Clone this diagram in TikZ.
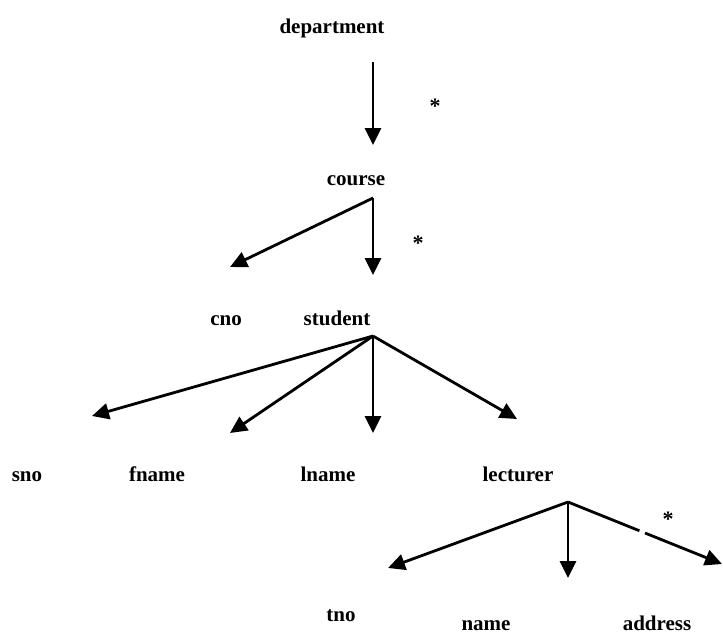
\documentclass[tikz,border=0pt]{standalone}
\usepackage{fontspec}
\setmainfont{Liberation Serif}
\usetikzlibrary{arrows.meta}
\begin{document}
\begin{tikzpicture}[x=1pt,y=-1pt,
  lbl/.style={font=\fontsize{21}{21}\selectfont\bfseries, inner sep=0pt, anchor=base},
  star/.style={font=\fontsize{22}{22}\selectfont\bfseries, inner sep=0pt, anchor=base},
  link/.style={line width=2.8pt, -{Triangle[length=17pt,width=16pt]}}]
\useasboundingbox (0,0) rectangle (723,640);

% element names
\node[lbl] (department) at (332,33)  {department};
\node[lbl] (course)     at (356,185) {course};
\node[lbl] (cno)        at (226,325) {cno};
\node[lbl] (student)    at (337,325) {student};
\node[lbl] (sno)        at (27,481)  {sno};
\node[lbl] (fname)      at (157,481) {fname};
\node[lbl] (lname)      at (328,481) {lname};
\node[lbl] (lecturer)   at (518,481) {lecturer};
\node[lbl] (tno)        at (341,621) {tno};
\node[lbl] (name)       at (486,630) {name};
\node[lbl] (address)    at (657,630) {address};

% attachment points of the edges
\coordinate (department-out) at (373,62);
\coordinate (course-in)      at (373,145);
\coordinate (course-out)     at (373,198);
\coordinate (cno-in)         at (230,267);
\coordinate (student-in)     at (373,275);
\coordinate (student-out)    at (373,336);
\coordinate (sno-in)         at (92,416);
\coordinate (fname-in)       at (230,433);
\coordinate (lname-in)       at (373,433);
\coordinate (lecturer-in)    at (517,419);
\coordinate (lecturer-out)   at (568,502);
\coordinate (tno-in)         at (388,568);
\coordinate (name-in)        at (568,578);
\coordinate (address-in)     at (722,564);

% edges
\draw[link] (department-out) -- (course-in);
\draw[link] (course-out) -- (cno-in);
\draw[link] (course-out) -- (student-in);
\draw[link] (student-out) -- (sno-in);
\draw[link] (student-out) -- (fname-in);
\draw[link] (student-out) -- (lname-in);
\draw[link] (student-out) -- (lecturer-in);
\draw[link] (lecturer-out) -- (tno-in);
\draw[link] (lecturer-out) -- (name-in);
\draw[link, dash pattern=on 77pt off 6pt on 200pt] (lecturer-out) -- (address-in);

% repetition marks
\node[star] (rep1) at (435,113) {*};
\node[star] (rep2) at (418,250) {*};
\node[star] (rep3) at (668,526) {*};
\end{tikzpicture}
\end{document}
